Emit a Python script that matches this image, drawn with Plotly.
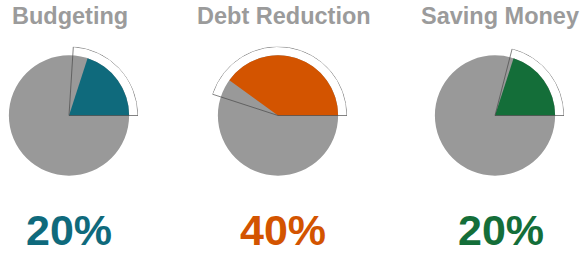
import plotly.graph_objects as go

# ---- data ----
categories = ["Budgeting", "Debt Reduction", "Saving Money"]
values = [20, 40, 20]            # filled wedge (percent)
outline_values = [24, 45, 21]    # outlined wedge (percent)
labels = [f"{v}%" for v in values]
colors = ["#0f6a7c", "#d35400", "#146e39"]
GRAY = "#999999"
TITLE_GRAY = "#9b9b9b"

W, H = 580, 254
pie_cx = [69, 278, 495]       # pie centre x (px)
pie_cy = 115.5                # pie centre y (px from top)
R_PX = 69                     # polar radius in px
title_cx = [70, 284, 500]
pct_cx = [69, 283, 501]

fig = go.Figure()
layout_polars = {}
for i, cat in enumerate(categories):
    sp = "polar" if i == 0 else f"polar{i+1}"
    v = values[i]
    o = outline_values[i]
    fig.add_trace(go.Barpolar(r=[61], theta=[180], width=[360], subplot=sp,
                              marker=dict(color=GRAY, line=dict(width=0)),
                              hoverinfo="skip", showlegend=False))
    fig.add_trace(go.Barpolar(r=[61], theta=[v * 1.8], width=[v * 3.6], subplot=sp,
                              marker=dict(color=colors[i], line=dict(width=0)),
                              name=cat, showlegend=False))
    fig.add_trace(go.Barpolar(r=[70], theta=[o * 1.8], width=[o * 3.6], subplot=sp,
                              marker=dict(color="rgba(0,0,0,0)",
                                          line=dict(color="rgba(70,70,70,0.75)", width=0.9)),
                              hoverinfo="skip", showlegend=False))
    x0 = (pie_cx[i] - R_PX) / W
    x1 = (pie_cx[i] + R_PX) / W
    y0 = (H - pie_cy - R_PX) / H
    y1 = (H - pie_cy + R_PX) / H
    layout_polars[sp] = dict(
        domain=dict(x=[x0, x1], y=[y0, y1]),
        bgcolor="rgba(0,0,0,0)",
        barmode="overlay",
        radialaxis=dict(visible=False, range=[0, 70]),
        angularaxis=dict(visible=False, rotation=0, direction="counterclockwise"),
    )

annotations = []
for i, cat in enumerate(categories):
    annotations.append(dict(text=f"<b>{cat}</b>", x=title_cx[i] / W, y=(H - 16) / H,
                            xref="paper", yref="paper", xanchor="center", yanchor="middle",
                            showarrow=False,
                            font=dict(family="Liberation Sans, Arial", size=23.5, color=TITLE_GRAY)))
    annotations.append(dict(text=f"<b>{labels[i]}</b>", x=pct_cx[i] / W, y=(H - 230) / H,
                            xref="paper", yref="paper", xanchor="center", yanchor="middle",
                            showarrow=False,
                            font=dict(family="Liberation Sans, Arial", size=43, color=colors[i])))

fig.update_layout(width=W, height=H, margin=dict(l=0, r=0, t=0, b=0),
                  paper_bgcolor="white", plot_bgcolor="white",
                  annotations=annotations, **layout_polars)

fig.write_html("out.html", config={"displayModeBar": False},
               post_script="document.body.style.margin='0';document.body.style.overflow='hidden';")
